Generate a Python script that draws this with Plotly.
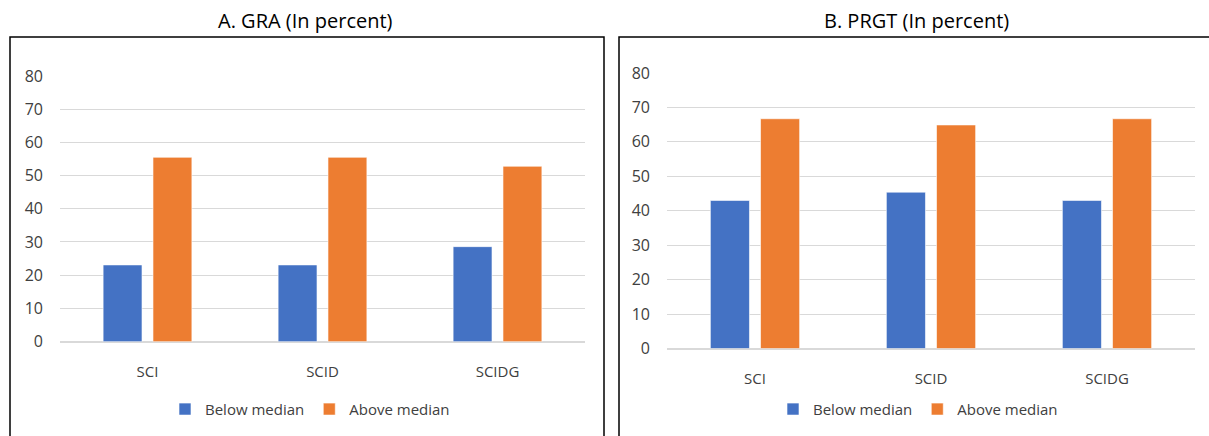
import plotly.graph_objects as go

# Share of countries, by group, below and above the median (percent)
categories = ["SCI", "SCID", "SCIDG"]
gra_below = [23.1, 23.1, 28.6]
gra_above = [55.5, 55.5, 52.8]
prgt_below = [43.0, 45.4, 43.0]
prgt_above = [66.7, 64.9, 66.7]
y_ticks = [0, 10, 20, 30, 40, 50, 60, 70, 80]
panel_titles = ["A. GRA (In percent)", "B. PRGT (In percent)"]
series_names = ["Below median", "Above median"]

BLUE = "#4472C4"
ORANGE = "#ED7D31"
GRID = "#D9D9D9"
TEXT = "#404040"
FONT = "Open Sans"

W, H = 1209, 436
# vertical placement helpers: screen row -> paper fraction
Y_OFF, Y_SCALE = 9.8, 0.954

fig = go.Figure()

panels = [
    ("x", "y", "legend", gra_below, gra_above),
    ("x2", "y2", "legend2", prgt_below, prgt_above),
]
for xa, ya, lg, below, above in panels:
    for name, vals, color in [(series_names[0], below, BLUE), (series_names[1], above, ORANGE)]:
        fig.add_trace(go.Bar(
            x=categories, y=vals, name=name, xaxis=xa, yaxis=ya, legend=lg,
            marker=dict(color=color, line=dict(color="white", width=0.6)),
            hoverinfo="x+y+name",
        ))


def px_x(p):
    return p / W


def px_y(p):
    return 1 - ((p - Y_OFF) / Y_SCALE) / H


x_axis_common = dict(
    showline=False, ticks="", tickfont=dict(family=FONT, size=15, color=TEXT),
    fixedrange=True, showgrid=False, zeroline=False, ticklabelstandoff=19,
)
y_axis_common = dict(
    showline=False, ticks="", tickfont=dict(family=FONT, size=16, color=TEXT),
    fixedrange=True, range=[0, 80], tickvals=y_ticks,
    showgrid=True, gridcolor=GRID, gridwidth=1,
    zeroline=True, zerolinecolor=GRID, zerolinewidth=1.5,
    ticklabelstandoff=16,
)
legend_common = dict(
    orientation="h", xanchor="center", yanchor="middle",
    font=dict(family=FONT, size=15, color=TEXT), itemwidth=30,
    bgcolor="rgba(0,0,0,0)",
)

fig.update_layout(
    width=W, height=H,
    margin=dict(l=0, r=0, t=0, b=0),
    paper_bgcolor="white", plot_bgcolor="white",
    barmode="group", bargap=0.43, bargroupgap=0.22,
    font=dict(family=FONT, color=TEXT),
    xaxis=dict(domain=[px_x(60), px_x(585)], anchor="y", **x_axis_common),
    yaxis=dict(domain=[px_y(342), px_y(75)], anchor="x", **y_axis_common),
    xaxis2=dict(domain=[px_x(667), px_x(1195)], anchor="y2", **x_axis_common),
    yaxis2=dict(domain=[px_y(349), px_y(72)], anchor="x2", **y_axis_common),
    legend=dict(x=px_x(310), y=px_y(410), **legend_common),
    legend2=dict(x=px_x(918), y=px_y(410), **legend_common),
    showlegend=True,
)

# Panel frames (open at the bottom edge of the page)
fig.add_shape(type="rect", xref="paper", yref="paper",
              x0=px_x(10), x1=px_x(604), y0=-0.2, y1=px_y(36),
              line=dict(color="black", width=1.5), fillcolor="rgba(0,0,0,0)", layer="below")
fig.add_shape(type="rect", xref="paper", yref="paper",
              x0=px_x(619), x1=1.02, y0=-0.2, y1=px_y(36),
              line=dict(color="black", width=1.5), fillcolor="rgba(0,0,0,0)", layer="below")

# Panel titles
for title, cx in zip(panel_titles, [305, 916]):
    fig.add_annotation(text=title, xref="paper", yref="paper", x=px_x(cx), y=px_y(19),
                       xanchor="center", yanchor="middle", showarrow=False,
                       font=dict(family=FONT, size=20, color="black"))

fig.write_html("out.html")
